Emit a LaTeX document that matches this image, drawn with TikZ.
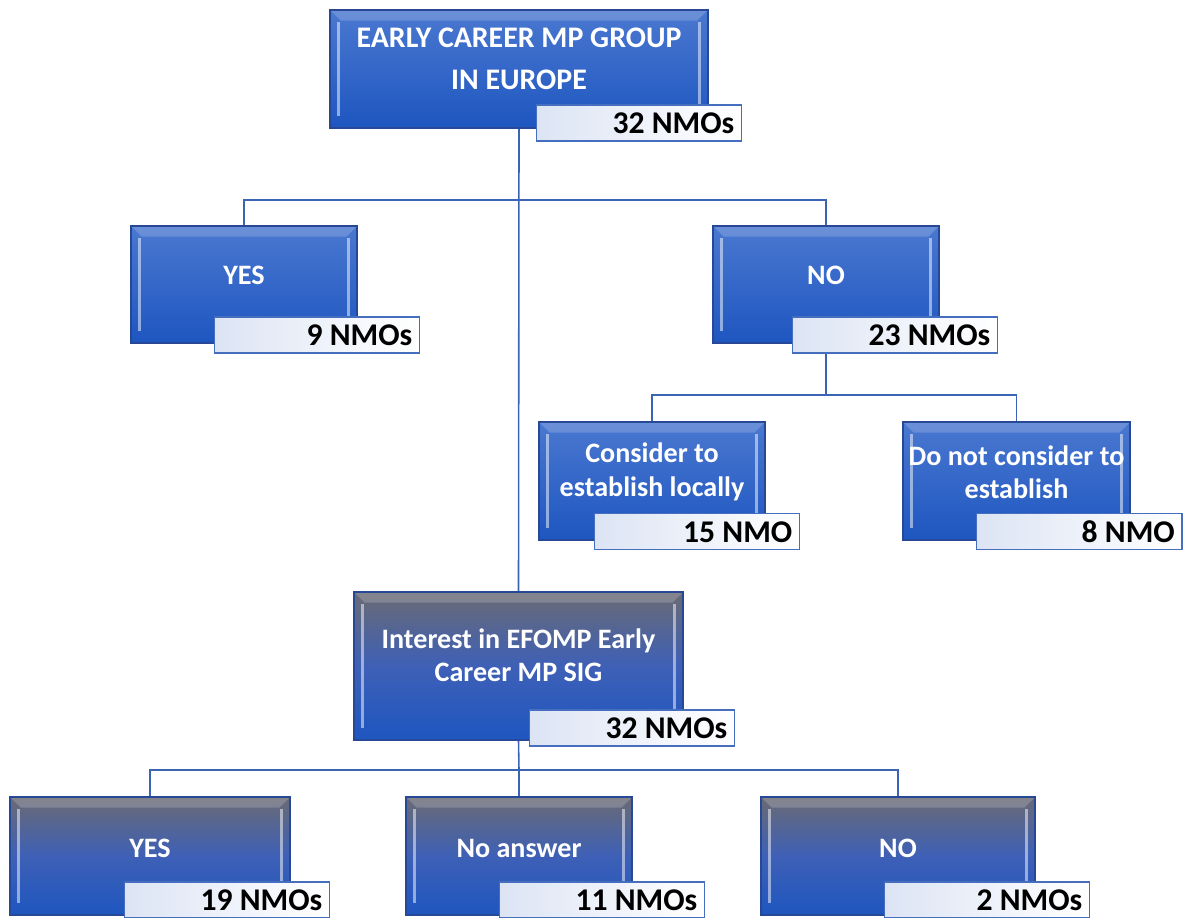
\documentclass[tikz,border=0pt]{standalone}
\usepackage{fontspec}
\setmainfont{Carlito}
\usetikzlibrary{backgrounds}

\definecolor{blueTop}{RGB}{74,120,208}
\definecolor{blueBot}{RGB}{30,86,192}
\definecolor{greyTop}{RGB}{106,106,116}
\definecolor{greyMid}{RGB}{62,96,182}
\definecolor{edgeBlue}{RGB}{38,72,150}
\definecolor{lineBlue}{RGB}{60,100,180}
\definecolor{countFill}{RGB}{220,228,244}
\definecolor{countEdge}{RGB}{70,110,190}

\tikzset{
  mainbox/.style={rectangle, draw=edgeBlue, line width=0.8pt,
    top color=blueTop, bottom color=blueBot,
    path picture={
      \fill[white, opacity=.18] (path picture bounding box.north west) -- (path picture bounding box.north east)
        -- ([shift={(-6pt,-6pt)}]path picture bounding box.north east) -- ([shift={(6pt,-6pt)}]path picture bounding box.north west) -- cycle;
      \draw[white, opacity=.5, line width=1.6pt] ([shift={(5pt,-7pt)}]path picture bounding box.north west) -- ([shift={(5pt,7pt)}]path picture bounding box.south west);
      \draw[white, opacity=.5, line width=1.6pt] ([shift={(-5pt,-7pt)}]path picture bounding box.north east) -- ([shift={(-5pt,7pt)}]path picture bounding box.south east);
    }},
  greybox/.style={mainbox, top color=greyTop, bottom color=blueBot, middle color=greyMid},
  boxtext/.style={text=white, font=\bfseries\fontsize{16}{19}\selectfont, align=center},
  countbox/.style={rectangle, draw=countEdge, line width=0.8pt, left color=countFill, right color=white,
    minimum width=4.1cm, minimum height=0.72cm, text width=3.82cm, align=flush right,
    inner xsep=4pt, inner ysep=2pt, text height=12.5pt, text depth=0pt,
    font=\bfseries\fontsize{18}{20}\selectfont, anchor=east},
  link/.style={draw=lineBlue, line width=0.9pt}
}

\begin{document}
\begin{tikzpicture}[x=0.02cm, y=-0.02cm]
  \useasboundingbox (0,0) rectangle (1183,917);

  % first question
  \node[mainbox, minimum width=7.56cm, minimum height=2.36cm,
    label={[boxtext, name=toptext, yshift=.2cm, font=\bfseries\fontsize{17}{24}\selectfont]center:{EARLY CAREER MP GROUP\\IN EUROPE}}] (top) at (519,69) {};
  \node[countbox] (topn) at (742,123) {32 NMOs};

  \node[mainbox, minimum width=4.52cm, minimum height=2.34cm,
    label={[boxtext, name=yes1t, yshift=.18cm]center:YES}] (yes1) at (244,284.5) {};
  \node[countbox] (yes1n) at (420,335) {9 NMOs};

  \node[mainbox, minimum width=4.52cm, minimum height=2.34cm,
    label={[boxtext, name=no1t, yshift=.18cm]center:NO}] (no1) at (826,284.5) {};
  \node[countbox] (no1n) at (998,335) {23 NMOs};

  \node[mainbox, minimum width=4.52cm, minimum height=2.36cm,
    label={[boxtext, name=const, yshift=.18cm]center:{Consider to\\establish locally}}] (cons) at (652,481) {};
  \node[countbox] (consn) at (800,531.5) {15 NMO};

  \node[mainbox, minimum width=4.54cm, minimum height=2.36cm,
    label={[boxtext, name=notct, yshift=.18cm]center:{Do not consider to\\establish}}] (notc) at (1016.5,481) {};
  \node[countbox] (notcn) at (1182.5,531.5) {8 NMO};

  % second question
  \node[greybox, minimum width=6.58cm, minimum height=2.96cm,
    label={[boxtext, name=interestt, yshift=.22cm]center:{Interest in EFOMP Early\\Career MP SIG}}] (interest) at (518.5,666) {};
  \node[countbox] (interestn) at (735,728) {32 NMOs};

  \node[greybox, minimum width=5.6cm, minimum height=2.36cm,
    label={[boxtext, name=yes2t, yshift=.16cm]center:YES}] (yes2) at (150,856) {};
  \node[countbox] (yes2n) at (330,900) {19 NMOs};

  \node[greybox, minimum width=4.52cm, minimum height=2.36cm,
    label={[boxtext, name=noanst, yshift=.16cm]center:No answer}] (noans) at (519,856) {};
  \node[countbox] (noansn) at (705,900) {11 NMOs};

  \node[greybox, minimum width=5.48cm, minimum height=2.36cm,
    label={[boxtext, name=no2t, yshift=.16cm]center:NO}] (no2) at (898,856) {};
  \node[countbox] (no2n) at (1090,900) {2 NMOs};

  % connectors
  \begin{scope}[on background layer]
    \coordinate (j1) at (519,200);
    \coordinate (j2) at (826,395);
    \coordinate (j3) at (519,770);
    \draw[link] (top.south) -- (interest.north);
    \draw[link] (j1) -| (yes1.north);
    \draw[link] (j1) -| (no1.north);
    \draw[link] (no1.south) -- (j2);
    \draw[link] (j2) -| (cons.north);
    \draw[link] (j2) -| (notc.north);
    \draw[link] (interest.south) -- (j3);
    \draw[link] (j3) -| (yes2.north);
    \draw[link] (j3) -- (noans.north);
    \draw[link] (j3) -| (no2.north);
  \end{scope}
\end{tikzpicture}
\end{document}
